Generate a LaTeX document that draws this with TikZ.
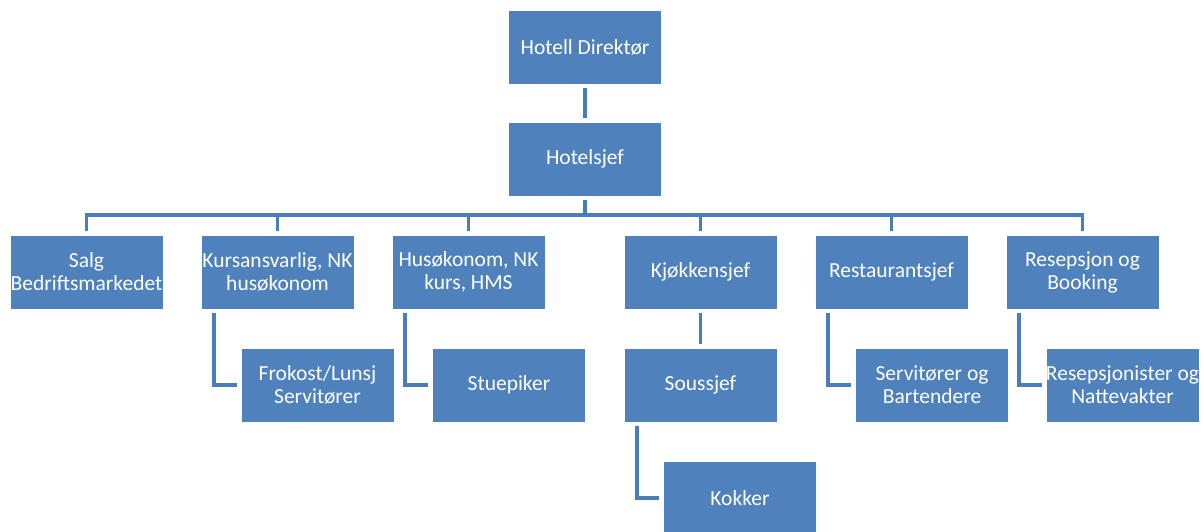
\documentclass[tikz,border=0pt]{standalone}
\usepackage{fontspec}
\setmainfont{Carlito}
\usepackage{tikz}
\usetikzlibrary{positioning}
\definecolor{boxblue}{HTML}{4F81BD}
\definecolor{linkblue}{HTML}{4A7DBA}

\begin{document}
\begin{tikzpicture}[x=1pt,y=-1pt,
  post/.style={draw=white,line width=0.8pt,fill=boxblue,text=white,align=center,
    minimum width=153pt,minimum height=74pt,inner sep=0pt,
    font=\fontsize{21.5}{23}\selectfont},
  link/.style={draw=linkblue,line width=3.6pt,shorten >=4pt}]
\useasboundingbox (0,0) rectangle (1204,531);
\clip (0,0) rectangle (1204,531);
% top of the chart
\node[post] (dir) at (585,47) {Hotell Direktør};
\node[post] (hsjef) at (585,159) {Hotelsjef};
% second level
\node[post] (salg) at (86.5,272) {Salg\\Bedriftsmarkedet};
\node[post] (kurs) at (277.5,272) {Kursansvarlig, NK\\husøkonom};
\node[post] (hus) at (468.5,272) {Husøkonom, NK\\kurs, HMS};
\node[post] (kjokken) at (700.5,272) {Kjøkkensjef};
\node[post] (rest) at (891.5,272) {Restaurantsjef};
\node[post] (resep) at (1082.5,272) {Resepsjon og\\Booking};
% third level
\node[post] (frokost) at (317.5,385) {Frokost/Lunsj\\Servitører};
\node[post] (stue) at (509,385) {Stuepiker};
\node[post] (sous) at (700.5,385) {Soussjef};
\node[post] (servit) at (932,385) {Servitører og\\Bartendere};
\node[post] (resepsj) at (1122.5,385) {Resepsjonister og\\Nattevakter};
\node[post] (kokker) at (740,498) {Kokker};
\coordinate (bus) at (585,215);
\draw[link,shorten <=4pt,shorten >=4pt] (dir) -- (hsjef);
\draw[link,shorten <=4pt,shorten >=0pt] (hsjef) -- (bus);
\foreach \n in {salg,kurs,hus,kjokken,rest,resep}
  \draw[link] (bus) -| (\n.north);
\draw[link,shorten <=4pt] (kjokken) -- (sous);
% elbow links from the left side of a box
\foreach \a/\b in {kurs/frokost,hus/stue,rest/servit,resep/resepsj,sous/kokker}
  \draw[link] ([xshift=13.5pt,yshift=-4pt]\a.south west) |- (\b.west);
\end{tikzpicture}
\end{document}
